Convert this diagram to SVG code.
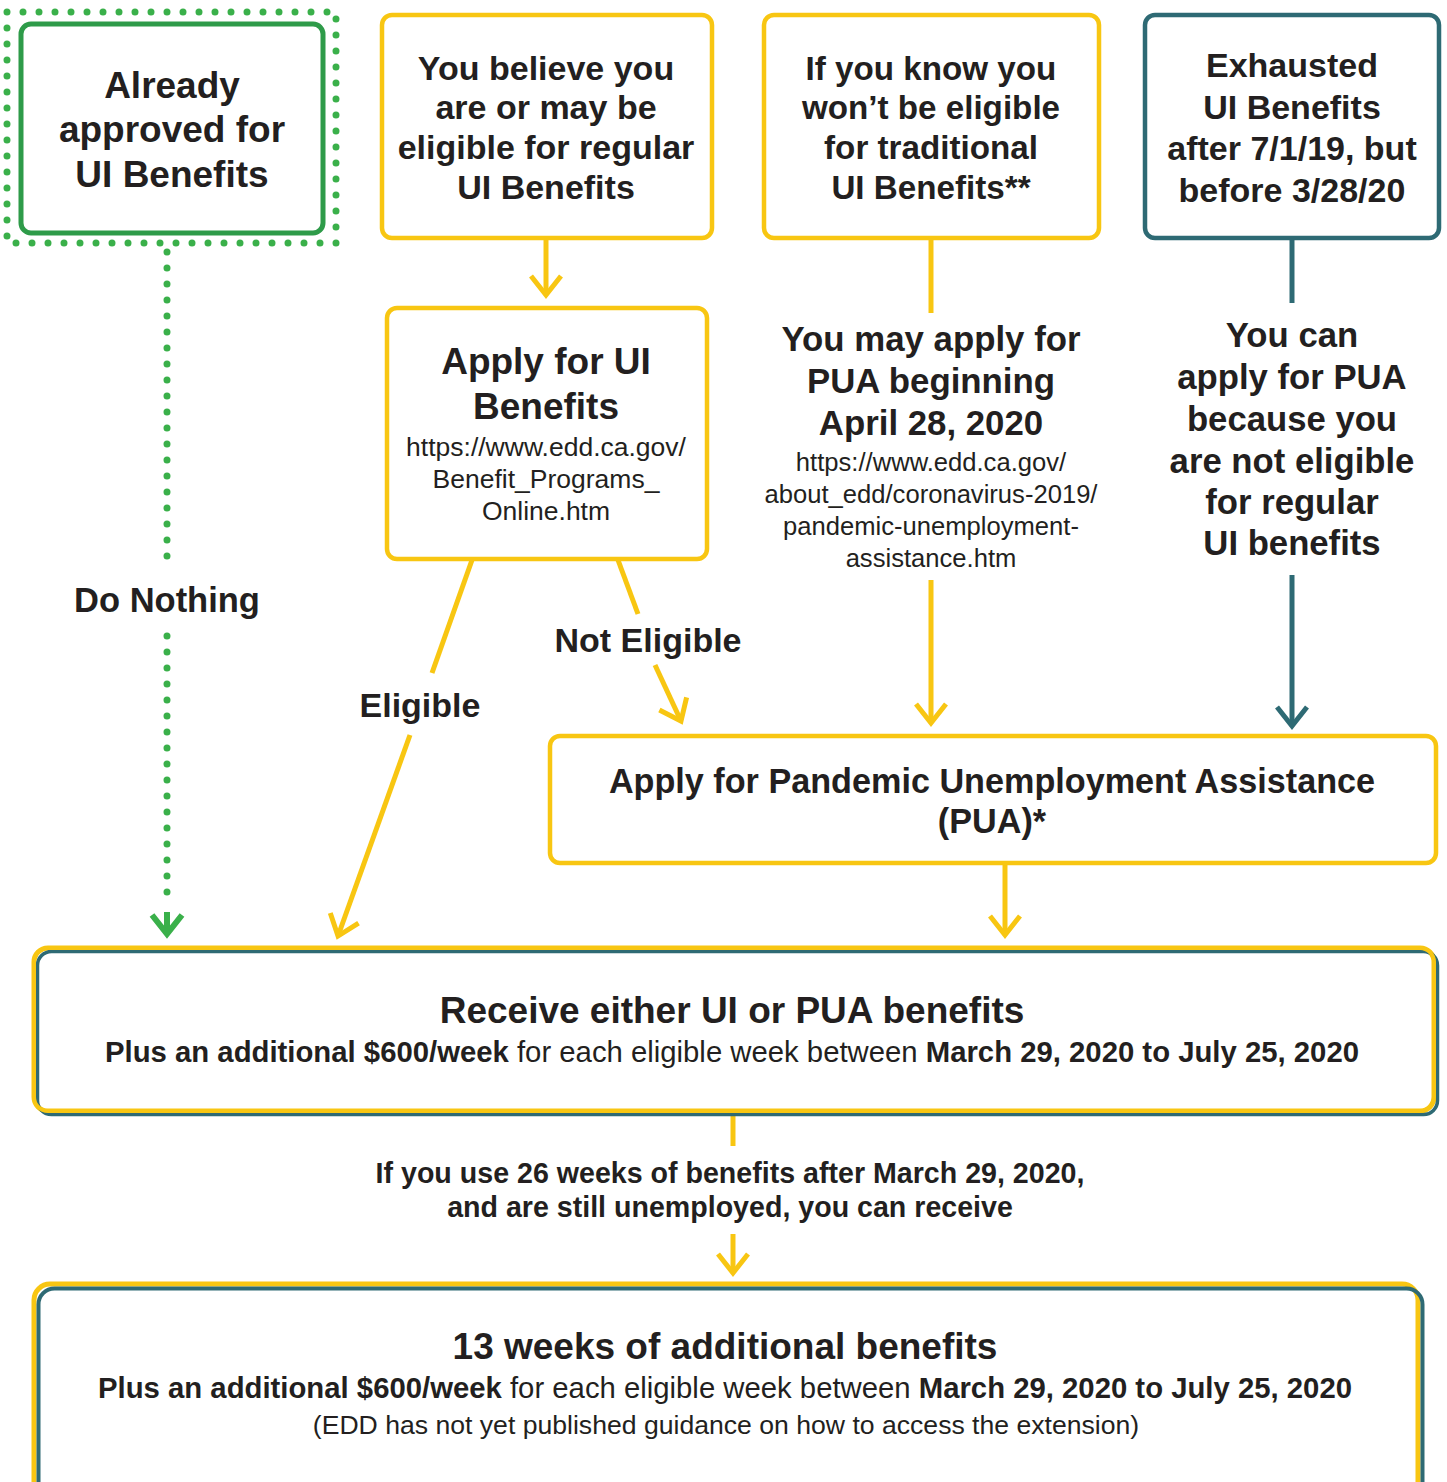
<svg xmlns="http://www.w3.org/2000/svg" width="1447" height="1482" viewBox="0 0 1447 1482">
<style>
text{font-family:"Liberation Sans",Arial,sans-serif;fill:#231f20;text-anchor:middle}
.b{font-weight:bold}
.r{font-weight:normal}
.box{fill:#fff;stroke:#f8c612;stroke-width:4.5}
.teal{fill:#fff;stroke:#2e6a74;stroke-width:4.5}
.cy{fill:none;stroke:#f8c612;stroke-width:5}
.ct{fill:none;stroke:#2e6a74;stroke-width:5}
</style>
<defs>
<marker id="ay" markerUnits="userSpaceOnUse" viewBox="-25 -20 30 40" markerWidth="30" markerHeight="40" refX="0" refY="0" orient="auto" overflow="visible"><path d="M-19,-15 L0,0 L-19,15" fill="none" stroke="#f8c612" stroke-width="5"/></marker>
<marker id="at" markerUnits="userSpaceOnUse" viewBox="-25 -20 30 40" markerWidth="30" markerHeight="40" refX="0" refY="0" orient="auto" overflow="visible"><path d="M-19,-15 L0,0 L-19,15" fill="none" stroke="#2e6a74" stroke-width="5"/></marker>
<marker id="ag" markerUnits="userSpaceOnUse" viewBox="-25 -20 30 40" markerWidth="30" markerHeight="40" refX="0" refY="0" orient="auto" overflow="visible"><path d="M-19,-15 L0,0 L-19,15" fill="none" stroke="#3ab04a" stroke-width="6"/></marker>
</defs>

<g id="connectors">
<line x1="167" y1="252" x2="167" y2="572" stroke="#3ab04a" stroke-width="7" stroke-linecap="round" stroke-dasharray="0 16"/>
<line x1="167" y1="636" x2="167" y2="908" stroke="#3ab04a" stroke-width="7" stroke-linecap="round" stroke-dasharray="0 16"/>
<line x1="167" y1="912" x2="167" y2="934" stroke="#3ab04a" stroke-width="6" marker-end="url(#ag)"/>
<line class="cy" x1="546" y1="239" x2="546" y2="295" marker-end="url(#ay)"/>
<line class="cy" x1="472" y1="560" x2="432" y2="673"/>
<line class="cy" x1="410" y1="735" x2="338" y2="936" marker-end="url(#ay)"/>
<line class="cy" x1="618" y1="560" x2="638" y2="614"/>
<line class="cy" x1="655" y1="665" x2="681" y2="721" marker-end="url(#ay)"/>
<line class="cy" x1="931" y1="239" x2="931" y2="313"/>
<line class="cy" x1="931" y1="580" x2="931" y2="723" marker-end="url(#ay)"/>
<line class="ct" x1="1292" y1="239" x2="1292" y2="303"/>
<line class="ct" x1="1292" y1="575" x2="1292" y2="726" marker-end="url(#at)"/>
<line class="cy" x1="1005" y1="864" x2="1005" y2="935" marker-end="url(#ay)"/>
<line class="cy" x1="733" y1="1113" x2="733" y2="1146"/>
<line class="cy" x1="733" y1="1234" x2="733" y2="1273" marker-end="url(#ay)"/>
</g>

<g id="already">
<rect x="7" y="12" width="329" height="231" fill="none" stroke="#3ab04a" stroke-width="7" stroke-linecap="round" stroke-dasharray="0 16"/>
<rect x="21" y="24" width="302" height="209" rx="10" fill="#fff" stroke="#2e9b49" stroke-width="5"/>
<text class="b" font-size="37"><tspan x="172" y="98">Already</tspan><tspan x="172" y="142">approved for</tspan><tspan x="172" y="187">UI Benefits</tspan></text>
</g>

<g id="believe">
<rect class="box" x="382" y="15" width="330" height="223" rx="10"/>
<text class="b" font-size="34"><tspan x="546" y="80">You believe you</tspan><tspan x="546" y="119">are or may be</tspan><tspan x="546" y="159">eligible for regular</tspan><tspan x="546" y="199">UI Benefits</tspan></text>
</g>

<g id="know">
<rect class="box" x="764" y="15" width="335" height="223" rx="10"/>
<text class="b" font-size="33.2"><tspan x="931" y="80">If you know you</tspan><tspan x="931" y="119">won’t be eligible</tspan><tspan x="931" y="159">for traditional</tspan><tspan x="931" y="199">UI Benefits**</tspan></text>
</g>

<g id="exhausted">
<rect class="teal" x="1145" y="15" width="294" height="223" rx="10"/>
<text class="b" font-size="34"><tspan x="1292" y="77">Exhausted</tspan><tspan x="1292" y="119">UI Benefits</tspan><tspan x="1292" y="160">after 7/1/19, but</tspan><tspan x="1292" y="202">before 3/28/20</tspan></text>
</g>

<g id="applyui">
<rect class="box" x="387" y="308" width="320" height="251" rx="10"/>
<text class="b" font-size="37"><tspan x="546" y="374">Apply for UI</tspan><tspan x="546" y="419">Benefits</tspan></text>
<text font-size="26.5"><tspan x="546" y="456">https://www.edd.ca.gov/</tspan><tspan x="546" y="488">Benefit_Programs_</tspan><tspan x="546" y="520">Online.htm</tspan></text>
</g>

<g id="maypua">
<text class="b" font-size="34.8"><tspan x="931" y="351">You may apply for</tspan><tspan x="931" y="393">PUA beginning</tspan><tspan x="931" y="435">April 28, 2020</tspan></text>
<text font-size="25.6"><tspan x="931" y="471">https://www.edd.ca.gov/</tspan><tspan x="931" y="503">about_edd/coronavirus-2019/</tspan><tspan x="931" y="535">pandemic-unemployment-</tspan><tspan x="931" y="567">assistance.htm</tspan></text>
</g>

<g id="canpua">
<text class="b" font-size="34.7"><tspan x="1292" y="347">You can</tspan><tspan x="1292" y="389">apply for PUA</tspan><tspan x="1292" y="431">because you</tspan><tspan x="1292" y="473">are not eligible</tspan><tspan x="1292" y="514">for regular</tspan><tspan x="1292" y="555">UI benefits</tspan></text>
</g>

<g id="labels">
<text class="b" font-size="34.5" x="167" y="612">Do Nothing</text>
<text class="b" font-size="34" x="420" y="717">Eligible</text>
<text class="b" font-size="34" x="648" y="652">Not Eligible</text>
</g>

<g id="pua">
<rect class="box" x="550" y="736" width="886" height="127" rx="10"/>
<text class="b" font-size="34.2"><tspan x="992" y="793">Apply for Pandemic Unemployment Assistance</tspan><tspan x="992" y="833">(PUA)*</tspan></text>
</g>

<g id="receive">
<rect x="34" y="948" width="1400" height="163" rx="14" fill="#fff" stroke="#f8c612" stroke-width="5"/>
<rect x="37.5" y="951.5" width="1400" height="163" rx="14" fill="none" stroke="#2e6a74" stroke-width="3.5"/>
<rect x="34" y="948" width="1400" height="163" rx="14" fill="none" stroke="#f8c612" stroke-width="4"/>
<text class="b" font-size="37" x="732" y="1023">Receive either UI or PUA benefits</text>
<text font-size="29.3" x="732" y="1062"><tspan class="b">Plus an additional $600/week</tspan><tspan class="r"> for each eligible week between </tspan><tspan class="b">March 29, 2020 to July 25, 2020</tspan></text>
</g>

<g id="ifyou">
<text class="b" font-size="28.6"><tspan x="730" y="1183">If you use 26 weeks of benefits after March 29, 2020,</tspan><tspan x="730" y="1217">and are still unemployed, you can receive</tspan></text>
</g>

<g id="thirteen">
<rect x="34" y="1284" width="1384" height="220" rx="16" fill="#fff" stroke="#f8c612" stroke-width="5"/>
<rect x="38.5" y="1288.5" width="1384" height="220" rx="16" fill="none" stroke="#2e6a74" stroke-width="4"/>
<text class="b" font-size="37" x="725" y="1359">13 weeks of additional benefits</text>
<text font-size="29.3" x="725" y="1398"><tspan class="b">Plus an additional $600/week</tspan><tspan class="r"> for each eligible week between </tspan><tspan class="b">March 29, 2020 to July 25, 2020</tspan></text>
<text class="r" font-size="26.6" x="726" y="1434">(EDD has not yet published guidance on how to access the extension)</text>
</g>
</svg>
